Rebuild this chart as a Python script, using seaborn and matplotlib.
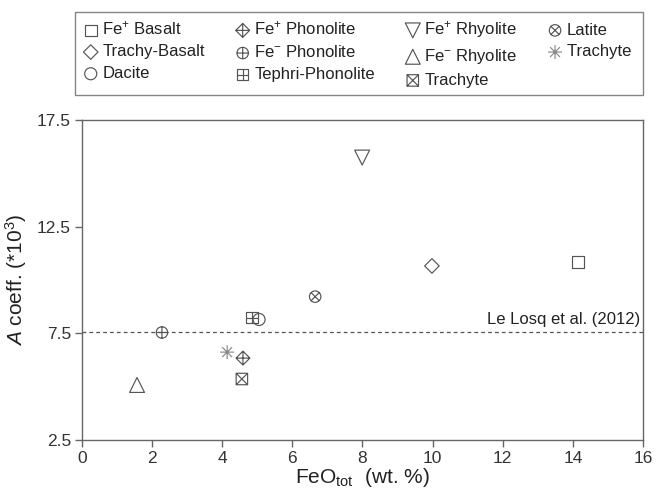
import numpy as np
import pandas as pd
import matplotlib
matplotlib.use("Agg")
import matplotlib.pyplot as plt
from matplotlib.path import Path
from matplotlib.markers import MarkerStyle
import seaborn as sns

# ---- data ----
labels = ["Fe$^{+}$ Basalt", "Trachy-Basalt", "Dacite",
          "Fe$^{+}$ Phonolite", "Fe$^{-}$ Phonolite", "Tephri-Phonolite",
          "Fe$^{+}$ Rhyolite", "Fe$^{-}$ Rhyolite", "Trachyte",
          "Latite", "Trachyte "]
feo = [14.15, 9.98, 5.05, 4.59, 2.28, 4.85, 7.99, 1.57, 4.56, 6.65, 4.14]
acoef = [10.84, 10.66, 8.15, 6.34, 7.54, 8.24, 15.74, 5.08, 5.36, 9.22, 6.62]
ref_value = 7.56
ref_label = "Le Losq et al. (2012)"
xticks = [0, 2, 4, 6, 8, 10, 12, 14, 16]
yticks = [2.5, 7.5, 12.5, 17.5]

sns.set_style("ticks")
plt.rcParams["font.family"] = ["Liberation Sans", "DejaVu Sans"]
plt.rcParams["mathtext.fontset"] = "custom"
plt.rcParams["mathtext.rm"] = "Liberation Sans"
plt.rcParams["mathtext.it"] = "Liberation Sans:italic"
plt.rcParams["mathtext.bf"] = "Liberation Sans:bold"


def seg(a, b):
    return Path([a, b], [Path.MOVETO, Path.LINETO])


sq = Path([(-1, -1), (1, -1), (1, 1), (-1, 1), (-1, -1)],
          [Path.MOVETO, Path.LINETO, Path.LINETO, Path.LINETO, Path.CLOSEPOLY])
dia = Path([(0, -1), (1, 0), (0, 1), (-1, 0), (0, -1)],
           [Path.MOVETO, Path.LINETO, Path.LINETO, Path.LINETO, Path.CLOSEPOLY])
circ = Path.unit_circle()
plus = [seg((-1, 0), (1, 0)), seg((0, -1), (0, 1))]
xcross = [seg((-1, -1), (1, 1)), seg((-1, 1), (1, -1))]
r = 0.7071
xcirc = [seg((-r, -r), (r, r)), seg((-r, r), (r, -r))]

dia_plus = Path.make_compound_path(dia, *plus)
circ_plus = Path.make_compound_path(circ, *plus)
sq_plus = Path.make_compound_path(sq, *plus)
sq_x = Path.make_compound_path(sq, *xcross)
circ_x = Path.make_compound_path(circ, *xcirc)
aster = Path.make_compound_path(seg((-1, 0), (1, 0)), seg((0, -1), (0, 1)),
                                seg((-r, -r), (r, r)), seg((-r, r), (r, -r)))

markers = ["s", "D", "o", dia_plus, circ_plus, sq_plus, "v", "^", sq_x, circ_x, aster]
sizes = [70, 55, 75, 100, 68, 68, 115, 115, 68, 68, 100]
colors = ["#555555"] * 10 + ["#8a8a8a"]

fig = plt.figure(figsize=(6.57, 4.99), dpi=100)
ax = fig.add_axes([0.1248, 0.1182, 0.8539, 0.6413])

for lab, x, y, m, s, c in zip(labels, feo, acoef, markers, sizes, colors):
    sns.scatterplot(x=[x], y=[y], ax=ax, marker=MarkerStyle(m), s=s,
                    color=c, facecolor="none", edgecolor=c, linewidth=0.85,
                    label=lab, legend=True)

ax.axhline(ref_value, color="#555555", lw=0.9, ls=(0, (3, 2.5)), zorder=1)
ax.text(15.93, ref_value + 0.25, ref_label, ha="right", va="bottom",
        fontsize=12, color="#222222")

ax.set_xlim(0, 16)
ax.set_ylim(2.5, 17.5)
ax.set_xticks(xticks)
ax.set_yticks(yticks)
ax.set_xticklabels([str(t) for t in xticks])
ax.set_yticklabels([str(t) for t in yticks])
ax.tick_params(direction="out", length=5, width=1, colors="#666666",
               labelcolor="#333333", labelsize=12.5, pad=3)
for sp in ax.spines.values():
    sp.set_visible(True)
    sp.set_color("#666666")
    sp.set_linewidth(1.0)

ax.set_xlabel("FeO$_{\\mathrm{tot}}$  (wt. %)", fontsize=15, color="#222222", labelpad=0)
ax.set_ylabel("$A$ coeff. (*10$^{3}$)", fontsize=15, color="#222222", labelpad=6)

handles, labs = ax.get_legend_handles_labels()
ax.get_legend().remove()
leg = fig.legend(handles, labs, ncol=4, loc="upper left",
                 bbox_to_anchor=(0.114, 0.804, 0.865, 0.172), mode="expand",
                 borderaxespad=0, fancybox=False, frameon=True, fontsize=12,
                 handletextpad=0.2, handlelength=1.0, labelspacing=0.4,
                 columnspacing=0.8, borderpad=0.45, scatterpoints=1,
                 markerscale=1.0)
leg.get_frame().set_edgecolor("#666666")
leg.get_frame().set_linewidth(1.0)
for t in leg.get_texts():
    t.set_color("#222222")

fig.savefig("out.png", dpi=100)
